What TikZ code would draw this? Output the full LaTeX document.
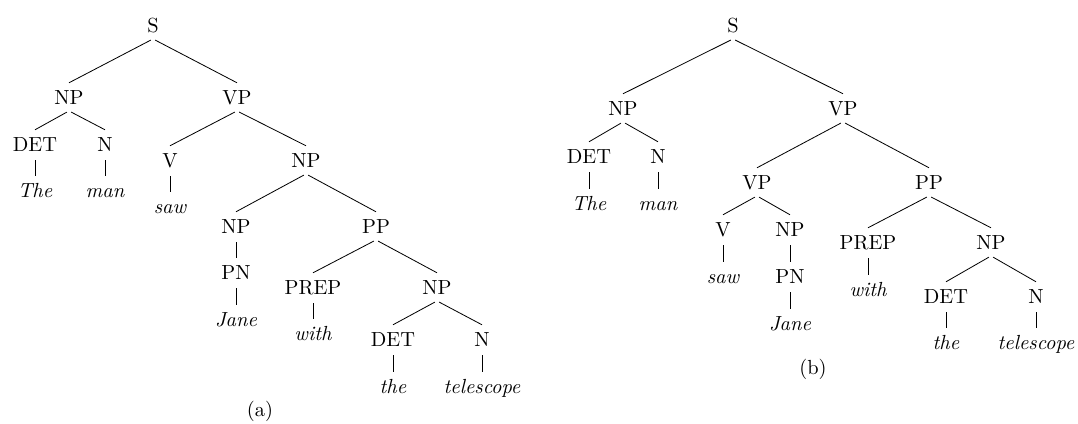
\documentclass[tikz,border=0pt]{standalone}
\begin{document}
\begin{tikzpicture}[
    x=0.49pt, y=-0.49pt,
    % Styles
    cat/.style={anchor=base, inner xsep=2pt, inner ysep=3.2pt,
        text height=7pt, text depth=0pt},
    word/.style={cat, font=\itshape},
    branch/.style={shorten <=1.2pt},
    caption/.style={anchor=base}
]
\useasboundingbox (0,0) rectangle (1078,423);

% --- Tree (a): PP attached to the object NP ---
\node[cat] (sA) at (153,32) {S};
\node[cat] (npA1) at (69,104) {NP};
\node[cat] (vpA) at (237,104) {VP};
\node[cat] (detA1) at (35,151) {DET};
\node[cat] (nA1) at (105,151) {N};
\node[word] (theA1) at (35,197) {The};
\node[word] (manA) at (105,197) {man};
\node[cat] (vA) at (170,167) {V};
\node[cat] (npA2) at (306,167) {NP};
\node[word] (sawA) at (170,213) {saw};
\node[cat] (npA3) at (236,233) {NP};
\node[cat] (ppA) at (376,233) {PP};
\node[cat] (pnA) at (236,279) {PN};
\node[word] (janeA) at (236,326) {Jane};
\node[cat] (prepA) at (313,294) {PREP};
\node[cat] (npA4) at (437,294) {NP};
\node[word] (withA) at (313,340) {with};
\node[cat] (detA2) at (393,346) {DET};
\node[cat] (nA2) at (482,346) {N};
\node[word] (theA2) at (393,393) {the};
\node[word] (telA) at (482,393) {telescope};
\node[caption] (capA) at (260,416) {(a)};

\begin{scope}[branch]
    \draw (sA.south) -- (npA1.north);
    \draw (sA.south) -- (vpA.north);
    \draw (npA1.south) -- (detA1.north);
    \draw (npA1.south) -- (nA1.north);
    \draw (detA1.south) -- (theA1.north);
    \draw (nA1.south) -- (manA.north);
    \draw (vpA.south) -- (vA.north);
    \draw (vpA.south) -- (npA2.north);
    \draw (vA.south) -- (sawA.north);
    \draw (npA2.south) -- (npA3.north);
    \draw (npA2.south) -- (ppA.north);
    \draw (npA3.south) -- (pnA.north);
    \draw (pnA.south) -- (janeA.north);
    \draw (ppA.south) -- (prepA.north);
    \draw (ppA.south) -- (npA4.north);
    \draw (prepA.south) -- (withA.north);
    \draw (npA4.south) -- (detA2.north);
    \draw (npA4.south) -- (nA2.north);
    \draw (detA2.south) -- (theA2.north);
    \draw (nA2.south) -- (telA.north);
\end{scope}

% --- Tree (b): PP attached to the VP ---
\node[cat] (sB) at (733,32) {S};
\node[cat] (npB1) at (623,115) {NP};
\node[cat] (vpB1) at (843,115) {VP};
\node[cat] (detB1) at (589,163) {DET};
\node[cat] (nB1) at (658,163) {N};
\node[word] (theB1) at (589,210) {The};
\node[word] (manB) at (658,210) {man};
\node[cat] (vpB2) at (757,189) {VP};
\node[cat] (ppB) at (929,189) {PP};
\node[cat] (vB) at (723,236) {V};
\node[cat] (npB2) at (790,236) {NP};
\node[word] (sawB) at (723,283) {saw};
\node[cat] (pnB) at (790,283) {PN};
\node[word] (janeB) at (790,330) {Jane};
\node[cat] (prepB) at (868,249) {PREP};
\node[cat] (npB3) at (991,249) {NP};
\node[word] (withB) at (868,296) {with};
\node[cat] (detB2) at (946,303) {DET};
\node[cat] (nB2) at (1036,303) {N};
\node[word] (theB2) at (946,349) {the};
\node[word] (telB) at (1036,349) {telescope};
\node[caption] (capB) at (813,374) {(b)};

\begin{scope}[branch]
    \draw (sB.south) -- (npB1.north);
    \draw (sB.south) -- (vpB1.north);
    \draw (npB1.south) -- (detB1.north);
    \draw (npB1.south) -- (nB1.north);
    \draw (detB1.south) -- (theB1.north);
    \draw (nB1.south) -- (manB.north);
    \draw (vpB1.south) -- (vpB2.north);
    \draw (vpB1.south) -- (ppB.north);
    \draw (vpB2.south) -- (vB.north);
    \draw (vpB2.south) -- (npB2.north);
    \draw (vB.south) -- (sawB.north);
    \draw (npB2.south) -- (pnB.north);
    \draw (pnB.south) -- (janeB.north);
    \draw (ppB.south) -- (prepB.north);
    \draw (ppB.south) -- (npB3.north);
    \draw (prepB.south) -- (withB.north);
    \draw (npB3.south) -- (detB2.north);
    \draw (npB3.south) -- (nB2.north);
    \draw (detB2.south) -- (theB2.north);
    \draw (nB2.south) -- (telB.north);
\end{scope}

\end{tikzpicture}
\end{document}
